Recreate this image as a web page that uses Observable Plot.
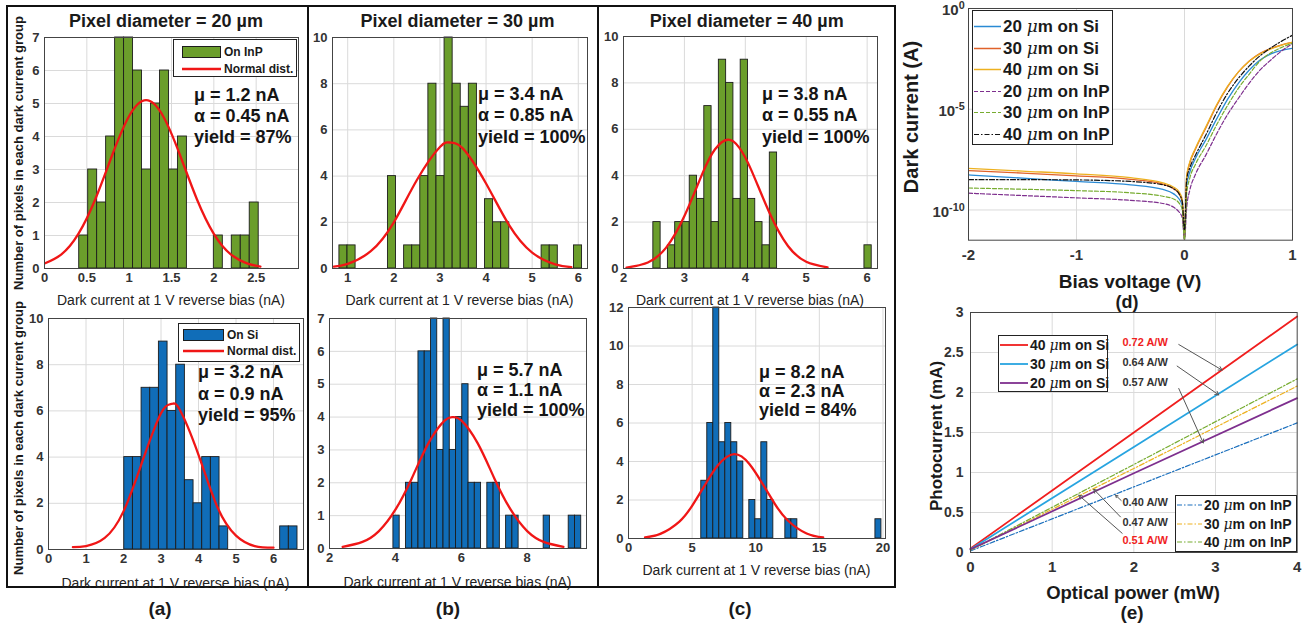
<!DOCTYPE html>
<html><head><meta charset="utf-8">
<script src="https://cdn.jsdelivr.net/npm/d3@7"></script>
<script src="https://cdn.jsdelivr.net/npm/@observablehq/plot@0.6"></script>
<style>
body{margin:0;background:#fff;}
#fig{position:relative;width:1309px;height:626px;overflow:hidden;background:#fff;font-family:'Liberation Sans',Arial,Helvetica,sans-serif;}
.t{position:absolute;white-space:nowrap;line-height:1;}
.t sup{font-size:0.72em;line-height:0;vertical-align:0.55em;}
.box{position:absolute;box-sizing:border-box;border:2px solid #111;}
.leg{position:absolute;box-sizing:border-box;background:#fff;border:1px solid #222;}
.leg .row{position:absolute;left:0;white-space:nowrap;line-height:1;transform:translateY(-50%);display:flex;align-items:center;}
</style></head><body><div id="fig"></div><script>
// ================= DATA =================
// (a) 20 um
const aTopStart = 0.41, aTopWidth = 0.106;
const aTopCounts = [1,3,2,4,7,7,6,3,5,6,3,4,0,0,0,1,0,1,1,2];
const aTopFitX = [0,0.2,0.4,0.6,0.8,1.0,1.2,1.4,1.6,1.8,2.0,2.2,2.4,2.55];
const aTopFitY = [0.15,0.43,1.05,2.1,3.44,4.62,5.1,4.62,3.44,2.1,1.05,0.43,0.15,0.06];
const aBotStart = 2.02, aBotWidth = 0.231;
const aBotCounts = [4,4,7,7,9,6,8,3,2,4,4,1,0,0,0,0,0,0,1,1];
const aBotFitX = [0.65,1.0,1.5,2.0,2.5,3.0,3.28,3.5,4.0,4.5,5.0,5.5,6.0];
const aBotFitY = [0.1,0.15,0.5,1.65,3.8,5.9,6.3,6.05,4.1,1.85,0.6,0.15,0.08];
// (b) 30 um
const bTopStart = 0.82, bTopWidth = 0.1754;
const bTopCounts = [1,1,0,0,0,0,4,0,1,1,4,8,4,10,8,7,8,0,3,2,2,0,0,0,0,1,1,0,0,1];
const bTopFitX = [0.7,1.0,1.5,2.0,2.5,3.0,3.23,3.5,4.0,4.5,5.0,5.5,5.85];
const bTopFitY = [0.08,0.2,0.75,2.0,3.83,5.26,5.45,5.19,3.68,1.88,0.69,0.18,0.06];
const bBotStart = 3.94, bBotWidth = 0.19;
const bBotCounts = [1,0,2,2,6,6,7,3,7,3,4,5,2,2,0,2,2,0,1,1,0,0,0,0,1,0,0,0,1,1];
const bBotFitX = [2.4,3.0,3.5,4.0,4.5,5.0,5.5,5.75,6.0,6.5,7.0,7.5,8.0,8.5,9.1];
const bBotFitY = [0.05,0.2,0.53,1.18,2.14,3.2,3.9,4.0,3.9,3.2,2.14,1.18,0.53,0.2,0.05];
// (c) 40 um
const cTopStart = 2.49, cTopWidth = 0.1195;
const cTopCounts = [2,0,1,2,2,4,3,7,2,9,8,3,9,3,2,1,5,0,0,0,0,0,0,0,0,0,0,0,0,1];
const cTopFitX = [2.05,2.4,2.7,3.0,3.3,3.5,3.71,3.9,4.1,4.4,4.7,5.0,5.35];
const cTopFitY = [0.04,0.26,0.9,2.26,4.12,5.13,5.55,5.21,4.23,2.38,0.97,0.29,0.05];
const cBotStart = 5.72, cBotWidth = 0.472;
const cBotCounts = [3,6,12,5,6,5,4,0,2,1,5,2,0,0,1,1,0,0,0,0,0,0,0,0,0,0,0,0,0,1];
const cBotFitX = [1.3,2.5,4.0,5.0,6.0,7.0,8.3,9.5,10.5,11.5,12.5,14.0,15.3];
const cBotFitY = [0.06,0.24,0.88,1.70,2.77,3.78,4.38,3.87,2.88,1.80,0.95,0.26,0.06];

const titles = ["Pixel diameter = 20 µm", "Pixel diameter = 30 µm", "Pixel diameter = 40 µm"];
const statsATop = ["μ = 1.2 nA", "α = 0.45 nA", "yield = 87%"];
const statsABot = ["μ = 3.2 nA", "α = 0.9 nA", "yield = 95%"];
const statsBTop = ["μ = 3.4 nA", "α = 0.85 nA", "yield = 100%"];
const statsBBot = ["μ = 5.7 nA", "α = 1.1 nA", "yield = 100%"];
const statsCTop = ["μ = 3.8 nA", "α = 0.55 nA", "yield = 100%"];
const statsCBot = ["μ = 8.2 nA", "α = 2.3 nA", "yield = 84%"];

// (d) dark current vs bias
const biasV = [-2,-1.5,-1,-0.5,-0.2,-0.1,-0.05,-0.02,0,0.02,0.05,0.1,0.2,0.3,0.4,0.5,0.6,0.7,0.8,0.9,1];
const dark20Si = [5.5e-9,3.8e-9,2.6e-9,1.78e-9,1.05e-9,6.3e-10,3.5e-10,1.6e-10,3.2e-12,1.6e-9,7.9e-9,3.5e-8,3.2e-7,3.5e-6,3.2e-5,2.0e-4,8.9e-4,2.8e-3,5.6e-3,8.3e-3,1.05e-2];
const dark30Si = [9.1e-9,6.8e-9,4.9e-9,3.3e-9,1.9e-9,1.12e-9,6.3e-10,2.5e-10,3.2e-12,4.0e-9,2.2e-8,1.0e-7,1.26e-6,1.58e-5,1.32e-4,7.1e-4,2.5e-3,6.0e-3,1.05e-2,1.58e-2,2.1e-2];
const dark40Si = [1.17e-8,8.5e-9,6.2e-9,4.0e-9,2.2e-9,1.35e-9,7.9e-10,3.2e-10,3.2e-12,5.0e-9,2.5e-8,1.12e-7,1.41e-6,1.78e-5,1.41e-4,7.1e-4,2.4e-3,5.6e-3,1.0e-2,1.5e-2,2.1e-2];
const dark20InP = [6.8e-10,5.2e-10,4.0e-10,3.0e-10,2.1e-10,1.35e-10,7.9e-11,4.0e-11,3.2e-12,1.26e-10,1.0e-9,5.6e-9,5.6e-8,6.3e-7,5.6e-6,3.5e-5,2.0e-4,8.9e-4,2.8e-3,7.9e-3,1.8e-2];
const dark30InP = [1.23e-9,1.07e-9,9.1e-10,7.1e-10,4.8e-10,3.5e-10,2.2e-10,1.0e-10,3.2e-12,6.3e-10,4.0e-9,1.78e-8,1.58e-7,1.78e-6,1.58e-5,1.12e-4,5.6e-4,2.5e-3,6.3e-3,1.17e-2,1.9e-2];
const dark40InP = [3.2e-9,3.2e-9,3.1e-9,2.6e-9,1.78e-9,1.12e-9,6.3e-10,2.5e-10,1.0e-11,3.2e-9,1.26e-8,5.0e-8,5.6e-7,7.1e-6,6.3e-5,3.5e-4,1.41e-3,4.5e-3,1.12e-2,2.4e-2,4.7e-2];
const dSeriesNames = ["20 μm on Si","30 μm on Si","40 μm on Si","20 μm on InP","30 μm on InP","40 μm on InP"];
const dXTicks = [-2,-1,0,1];
const dYTicks = [1e-10,1e-5,1];
const dYTickExp = ["-10","-5","0"];

// (e) photocurrent vs optical power
const powerMW = [0, 2, 4];
const photo40Si = [0.05, 1.5, 2.95];
const photo30Si = [0.04, 1.32, 2.6];
const photo20Si = [0.04, 0.99, 1.93];
const photo20InP = [0.02, 0.82, 1.62];
const photo30InP = [0.03, 1.05, 2.08];
const photo40InP = [0.03, 1.1, 2.17];
const eSiNames = ["40 μm on Si","30 μm on Si","20 μm on Si"];
const eInPNames = ["20 μm on InP","30 μm on InP","40 μm on InP"];
const eXTicks = [0,1,2,3,4];
const eYTicks = [0,0.5,1,1.5,2,2.5,3];
const respLabels = ["0.72 A/W","0.64 A/W","0.57 A/W","0.40 A/W","0.47 A/W","0.51 A/W"];
const respLabelX = [1.86,1.86,1.86,1.86,1.86,1.86];
const respLabelY = [2.63,2.37,2.12,0.62,0.38,0.155];
const respArrowFrom = [[2.55,2.6],[2.53,2.33],[2.55,2.05],[1.845,0.65],[1.836,0.445],[1.857,0.24]];
const respArrowTo = [[3.08,2.28],[3.04,1.97],[2.85,1.37],[1.776,0.716],[1.509,0.79],[1.326,0.716]];
const respRed = [true,false,false,false,false,true];

// ================= RENDER =================
const FONT = "'Liberation Sans', Arial, Helvetica, sans-serif";
const GRID = "#dadada";
const RED = "#f01616";
const fig = document.getElementById("fig");

function txt(s, x, y, o = {}) {
  const d = document.createElement("div");
  d.className = "t";
  d.innerHTML = s;
  d.style.left = x + "px"; d.style.top = y + "px";
  d.style.fontSize = (o.size || 14) + "px";
  d.style.fontWeight = o.weight || "bold";
  d.style.color = o.color || "#1a1a1a";
  const ax = o.anchor === "start" ? "0" : o.anchor === "end" ? "-100%" : "-50%";
  d.style.transform = `translate(${ax},-50%)` + (o.rotate ? ` rotate(${o.rotate}deg)` : "");
  fig.appendChild(d);
  return d;
}
function put(svg, left, top) {
  svg.style.position = "absolute";
  svg.style.left = left + "px"; svg.style.top = top + "px";
  svg.style.maxWidth = "none";
  fig.appendChild(svg);
}
function box(l, t, r, b) {
  const d = document.createElement("div");
  d.className = "box";
  Object.assign(d.style, {left: l + "px", top: t + "px", width: (r - l) + "px", height: (b - t) + "px"});
  fig.appendChild(d);
}
const fmt = d => String(d);

function histogram(h) {
  const [fl, fr, ft, fb] = h.frame;
  const mL = 36, mR = 4, mT = 8, mB = 24;
  const bins = h.counts.map((c, i) => ({x1: h.start + i * h.width, x2: h.start + (i + 1) * h.width, c})).filter(d => d.c > 0);
  const fit = h.fitX.map((x, i) => ({x, y: h.fitY[i]}));
  const svg = Plot.plot({
    width: fr - fl + mL + mR, height: fb - ft + mT + mB,
    marginLeft: mL, marginRight: mR, marginTop: mT, marginBottom: mB,
    x: {domain: h.xDomain}, y: {domain: h.yDomain},
    style: {fontFamily: FONT, fontSize: "13px", fontWeight: "bold", color: "#333", background: "transparent", overflow: "visible"},
    marks: [
      Plot.gridX(h.xTicks, {stroke: GRID, strokeOpacity: 1}),
      Plot.gridY(h.yTicks, {stroke: GRID, strokeOpacity: 1}),
      Plot.rect(bins, {x1: "x1", x2: "x2", y1: 0, y2: "c", fill: h.fill, stroke: "#1c1c1c", strokeWidth: 0.9}),
      Plot.line(fit, {x: "x", y: "y", stroke: RED, strokeWidth: 2.3, curve: "natural", clip: true}),
      Plot.frame({stroke: "#444", strokeWidth: 1}),
      Plot.axisX(h.xTicks, {tickSize: 0, tickPadding: 4, tickFormat: fmt, label: null}),
      Plot.axisY(h.yTicks, {tickSize: 0, tickPadding: 5, tickFormat: fmt, label: null})
    ]
  });
  put(svg, fl - mL, ft - mT);
}
function stats(lines, x, ys) {
  lines.forEach((s, i) => txt(s, x, ys[i], {size: 18, anchor: "start", color: "#151515"}));
}
function histLegend(l, t, w, hgt, fill, name, rows, sw) {
  const d = document.createElement("div");
  d.className = "leg";
  Object.assign(d.style, {left: l + "px", top: t + "px", width: w + "px", height: hgt + "px", fontSize: "12px", fontWeight: "bold", color: "#1a1a1a"});
  d.innerHTML =
    `<div class="row" style="top:${rows[0]}px;left:${sw[0]}px"><svg width="${sw[1]}" height="12"><rect x="0.5" y="0.5" width="${sw[1]-1}" height="11" fill="${fill}" stroke="#1c1c1c"/></svg><span style="margin-left:3px">${name}</span></div>` +
    `<div class="row" style="top:${rows[1]}px;left:${sw[0]}px"><svg width="${sw[1]}" height="6"><line x1="0" x2="${sw[1]}" y1="3" y2="3" stroke="${RED}" stroke-width="2.4"/></svg><span style="margin-left:3px">Normal dist.</span></div>`;
  fig.appendChild(d);
}
function lineLegend(l, t, w, hgt, entries, rows, swLen, size) {
  const d = document.createElement("div");
  d.className = "leg";
  Object.assign(d.style, {left: l + "px", top: t + "px", width: w + "px", height: hgt + "px", fontSize: size + "px", fontWeight: "bold", color: "#1a1a1a"});
  d.innerHTML = entries.map((e, i) => {
    const [num, rest] = e.name.split(" μm");
    return `<div class="row" style="top:${rows[i]}px;left:1px"><svg width="${swLen}" height="6"><line x1="0" x2="${swLen}" y1="3" y2="3" stroke="${e.color}" stroke-width="${e.width}" ${e.dash ? `stroke-dasharray="${e.dash}"` : ""}/></svg><span style="margin-left:2px">${num} <i style="font-weight:normal;font-family:'DejaVu Serif',serif">μ</i>m${rest}</span></div>`;
  }).join("");
  fig.appendChild(d);
}

const GREEN = "#6b9e2b", BLUE = "#106db8";

// panel borders
box(6, 5, 309, 588);
box(307, 5, 599, 588);
box(597, 5, 896, 588);

histogram({frame: [44, 298, 37, 268], xDomain: [0, 3], yDomain: [0, 7], xTicks: [0,0.5,1,1.5,2,2.5], yTicks: [0,1,2,3,4,5,6,7],
  start: aTopStart, width: aTopWidth, counts: aTopCounts, fitX: aTopFitX, fitY: aTopFitY, fill: GREEN});
histogram({frame: [48, 303, 318, 549], xDomain: [0, 6.8], yDomain: [0, 10], xTicks: [0,1,2,3,4,5,6], yTicks: [0,2,4,6,8,10],
  start: aBotStart, width: aBotWidth, counts: aBotCounts, fitX: aBotFitX, fitY: aBotFitY, fill: BLUE});
histogram({frame: [332, 587, 37, 268], xDomain: [0.67, 6.2], yDomain: [0, 10], xTicks: [1,2,3,4,5,6], yTicks: [0,2,4,6,8,10],
  start: bTopStart, width: bTopWidth, counts: bTopCounts, fitX: bTopFitX, fitY: bTopFitY, fill: GREEN});
histogram({frame: [329, 586, 318, 548], xDomain: [2, 9.8], yDomain: [0, 7], xTicks: [2,4,6,8], yTicks: [0,1,2,3,4,5,6,7],
  start: bBotStart, width: bBotWidth, counts: bBotCounts, fitX: bBotFitX, fitY: bBotFitY, fill: BLUE});
histogram({frame: [623, 877, 36, 268], xDomain: [2, 6.17], yDomain: [0, 10], xTicks: [2,3,4,5,6], yTicks: [0,2,4,6,8,10],
  start: cTopStart, width: cTopWidth, counts: cTopCounts, fitX: cTopFitX, fitY: cTopFitY, fill: GREEN});
histogram({frame: [628, 885, 307, 538], xDomain: [0, 20.2], yDomain: [0, 12], xTicks: [0,5,10,15,20], yTicks: [0,2,4,6,8,10,12],
  start: cBotStart, width: cBotWidth, counts: cBotCounts, fitX: cBotFitX, fitY: cBotFitY, fill: BLUE});

histLegend(173, 39, 124, 38, GREEN, "On InP", [12, 29], [8, 39]);
histLegend(178, 323, 122, 39, BLUE, "On Si", [11, 27], [4, 41]);

txt(titles[0], 166, 21, {size: 18});
txt(titles[1], 457.5, 20.5, {size: 18});
txt(titles[2], 746.7, 20.5, {size: 18});
stats(statsATop, 194, [95, 115.5, 137]);
stats(statsABot, 198, [372, 393.5, 415]);
stats(statsBTop, 478, [93.5, 115, 137]);
stats(statsBBot, 477, [370, 390, 410]);
stats(statsCTop, 762, [93.5, 115, 137]);
stats(statsCBot, 759, [372, 391, 410]);

const xlab = "Dark current at 1 V reverse bias (nA)";
[[171, 299.5], [175.5, 582.5], [459.5, 300], [457.5, 582], [750, 300], [756.5, 570]].forEach(([x, y]) => txt(xlab, x, y, {size: 14, weight: "normal", color: "#222"}));
const ylab = "Number of pixels in each dark current group";
txt(ylab, 17.5, 153, {size: 13, rotate: -90});
txt(ylab, 17.5, 438, {size: 13, rotate: -90});

txt("(a)", 160, 608, {size: 19});
txt("(b)", 448, 608, {size: 19});
txt("(c)", 740, 608, {size: 19});

// ---------- panel (d) ----------
const dSeries = [
  {name: dSeriesNames[0], values: dark20Si, color: "#2a8ad4", width: 1.3, dash: null},
  {name: dSeriesNames[1], values: dark30Si, color: "#e0622a", width: 1.3, dash: null},
  {name: dSeriesNames[2], values: dark40Si, color: "#edb120", width: 1.3, dash: null},
  {name: dSeriesNames[3], values: dark20InP, color: "#7e2f8e", width: 1.2, dash: "4,2"},
  {name: dSeriesNames[4], values: dark30InP, color: "#77ac30", width: 1.2, dash: "4,2"},
  {name: dSeriesNames[5], values: dark40InP, color: "#111111", width: 1.2, dash: "5,2,1.5,2"}
];
{
  const [fl, fr, ft, fb] = [967.7, 1291.7, 8.3, 240];
  const mL = 40, mR = 6, mT = 6, mB = 30;
  const svg = Plot.plot({
    width: fr - fl + mL + mR, height: fb - ft + mT + mB,
    marginLeft: mL, marginRight: mR, marginTop: mT, marginBottom: mB,
    x: {domain: [-2, 1]}, y: {type: "log", domain: [3.162e-12, 1], axis: null},
    style: {fontFamily: FONT, fontSize: "15px", fontWeight: "bold", color: "#333", background: "transparent", overflow: "visible"},
    marks: [
      Plot.gridX([-1, 0], {stroke: GRID, strokeOpacity: 1}),
      Plot.gridY([1e-10, 1e-5], {stroke: GRID, strokeOpacity: 1}),
      ...dSeries.map(s => Plot.line(biasV.map((v, i) => ({v, c: s.values[i]})), {x: "v", y: "c", stroke: s.color, strokeWidth: s.width, strokeDasharray: s.dash, curve: "monotone-x", clip: true})),
      Plot.frame({stroke: "#444"}),
      Plot.axisX(dXTicks, {tickSize: 0, tickPadding: 9, tickFormat: fmt, label: null})
    ]
  });
  put(svg, fl - mL, ft - mT);
  const ys = svg.scale("y");
  dYTicks.forEach((t, i) => txt(`10<sup>${dYTickExp[i]}</sup>`, fl - 3, ft - mT + ys.apply(t) + 1, {size: 15, anchor: "end", color: "#333"}));
}
lineLegend(972, 10, 141, 135, dSeries, [15, 37, 58, 80, 101, 123], 27, 17);
txt("Dark current (A)", 911, 117, {size: 20, rotate: -90});
txt("Bias voltage (V)", 1130, 281, {size: 19});
txt("(d)", 1127, 302, {size: 18});

// ---------- panel (e) ----------
const eSi = [
  {name: eSiNames[0], values: photo40Si, color: "#f01e1e", width: 1.8, dash: null},
  {name: eSiNames[1], values: photo30Si, color: "#27a4e0", width: 1.8, dash: null},
  {name: eSiNames[2], values: photo20Si, color: "#7e2f8e", width: 1.8, dash: null}
];
const eInP = [
  {name: eInPNames[0], values: photo20InP, color: "#1a6fbd", width: 1.2, dash: "5,2,1.5,2"},
  {name: eInPNames[1], values: photo30InP, color: "#edb120", width: 1.2, dash: "5,2,1.5,2"},
  {name: eInPNames[2], values: photo40InP, color: "#77ac30", width: 1.2, dash: "5,2,1.5,2"}
];
{
  const [fl, fr, ft, fb] = [970, 1296.7, 312.3, 552.3];
  const mL = 40, mR = 6, mT = 6, mB = 30;
  const notes = respLabels.map((s, i) => ({s, x: respLabelX[i], y: respLabelY[i], red: respRed[i],
    x1: respArrowFrom[i][0], y1: respArrowFrom[i][1], x2: respArrowTo[i][0], y2: respArrowTo[i][1]}));
  const svg = Plot.plot({
    width: fr - fl + mL + mR, height: fb - ft + mT + mB,
    marginLeft: mL, marginRight: mR, marginTop: mT, marginBottom: mB,
    x: {domain: [0, 4]}, y: {domain: [0, 3]},
    style: {fontFamily: FONT, fontSize: "15px", fontWeight: "bold", color: "#333", background: "transparent", overflow: "visible"},
    marks: [
      Plot.gridX([1, 2, 3], {stroke: GRID, strokeOpacity: 1}),
      Plot.gridY([0.5, 1, 1.5, 2, 2.5], {stroke: GRID, strokeOpacity: 1}),
      ...[...eInP, ...eSi].map(s => Plot.line(powerMW.map((p, i) => ({p, c: s.values[i]})), {x: "p", y: "c", stroke: s.color, strokeWidth: s.width, strokeDasharray: s.dash})),
      Plot.arrow(notes, {x1: "x1", y1: "y1", x2: "x2", y2: "y2", stroke: "#555", strokeWidth: 1, headLength: 6}),
      Plot.text(notes.filter(d => !d.red), {x: "x", y: "y", text: "s", textAnchor: "start", fontSize: 11, fontWeight: "bold", fill: "#333"}),
      Plot.text(notes.filter(d => d.red), {x: "x", y: "y", text: "s", textAnchor: "start", fontSize: 11, fontWeight: "bold", fill: "#f01e1e"}),
      Plot.frame({stroke: "#444"}),
      Plot.axisX(eXTicks, {tickSize: 0, tickPadding: 9, tickFormat: fmt, label: null}),
      Plot.axisY(eYTicks, {tickSize: 0, tickPadding: 7, tickFormat: fmt, label: null, fontSize: 14})
    ]
  });
  put(svg, fl - mL, ft - mT);
}
lineLegend(998, 335, 110, 57, eSi, [9, 28, 47], 28, 14);
lineLegend(1175, 495, 122, 57, eInP, [9, 28, 46], 25, 14);
txt("Photocurrent (mA)", 936, 436, {size: 17, rotate: -90});
txt("Optical power (mW)", 1133, 593, {size: 18.5});
txt("(e)", 1132, 612, {size: 19});
</script></body></html>
